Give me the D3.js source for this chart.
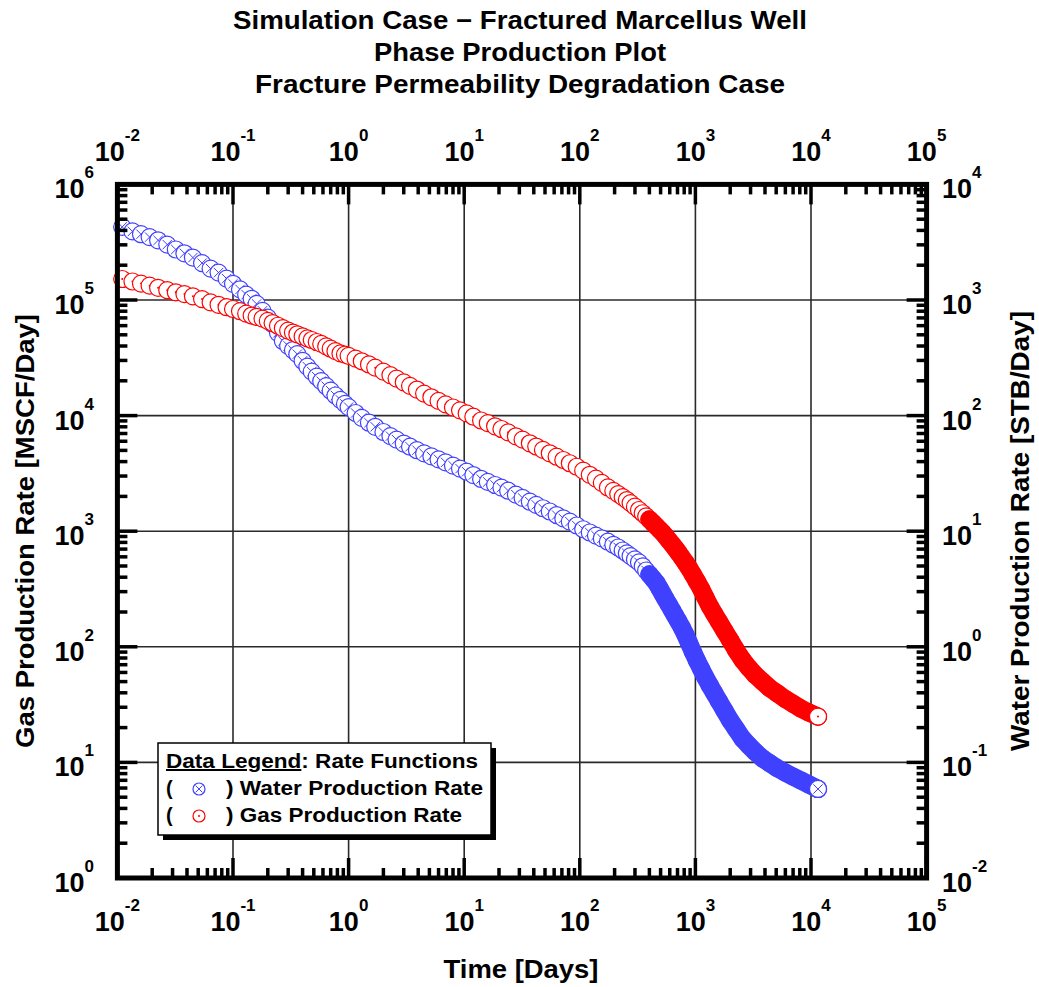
<!DOCTYPE html>
<html>
<head>
<meta charset="utf-8">
<script src="https://cdn.jsdelivr.net/npm/d3@7/dist/d3.min.js"></script>
<style>
  body { margin: 0; background: #fff; }
  svg text { font-family: "Liberation Sans", Arial, Helvetica, sans-serif; font-weight: bold; fill: #000; }
</style>
</head>
<body>
<div class="container"></div>
<script>
// time of each plotted step [days]
var days = [
  0.011, 0.0135, 0.016, 0.019, 0.0225, 0.027, 0.032, 0.038, 0.045, 0.054, 0.064, 0.075, 0.088, 0.1, 0.115, 0.13, 0.145,
  0.16, 0.18, 0.2, 0.22, 0.245, 0.27, 0.3, 0.33, 0.36, 0.4, 0.44, 0.48, 0.53, 0.58, 0.64, 0.7, 0.77, 0.85, 0.93, 1.0,
  1.15, 1.3, 1.5, 1.7, 2.0, 2.3, 2.6, 3.0, 3.4, 3.9, 4.5, 5.2, 6.0, 6.9, 8.0, 9.2, 10.5, 12, 14, 16, 18.5, 21, 24, 28,
  32, 37, 42, 48, 55, 63, 72, 82, 94, 107, 122, 138, 155, 175, 195,
  215, 235, 255, 275, 300, 325, 350, 375, 400, 430, 460, 490, 520, 550, 590, 630, 670, 710,
  760, 820, 880, 950, 1030, 1120, 1220, 1330, 1450, 1600, 1780, 2000, 2250, 2550, 2900, 3300, 3800, 4400, 5100, 6000,
  7000, 8200, 9600, 11500
];

// gas rate [MSCF/Day], left axis
var gasRate = [
  152000, 144500, 138700, 133000, 127500, 121600, 116600, 112500, 107600, 101800, 95500, 90900, 86600, 83600, 80000, 76300, 73400,
  71400, 69000, 65900, 63200, 59900, 57100, 54400, 52300, 50500, 48400, 46600, 45100, 43300, 41700, 39700, 37900, 36100, 34500, 33700, 32900,
  31100, 29500, 27700, 26000, 24000, 22400, 20900, 19400, 18100, 16800, 15500, 14400, 13400, 12500, 11750, 11100, 10450, 9780, 9070, 8600,
  8080, 7660, 7160, 6620, 6190, 5760, 5400, 5050, 4720, 4410, 4130, 3870, 3610, 3340, 3075, 2850, 2620, 2390, 2230,
  2095, 1970, 1860, 1750, 1630, 1525, 1430, 1345, 1265, 1177, 1100, 1032, 972, 911, 834, 769, 711, 658,
  597, 536, 481, 423, 368, 317, 267, 225, 194, 165, 138, 114, 93.4, 77.3, 65.8, 56.9, 50.1, 43.9, 39.6, 35.3,
  32.1, 29.2, 27.0, 24.9
];

// water rate [STB/Day], right axis
var waterRate = [
  4290, 3922, 3709, 3501, 3284, 3015, 2735, 2535, 2327, 2085, 1869, 1726, 1531, 1381, 1235, 1113, 1024,
  925, 806, 703, 619, 520, 442, 401, 369, 340, 298, 265, 240, 217, 198.5, 179.6, 164.2, 149.3, 136.7, 126.2, 118.4,
  105.3, 95.5, 86.8, 80.0, 72.1, 66.5, 61.9, 57.3, 53.8, 50.2, 47.1, 44.4, 41.8, 39.4, 36.9, 34.8, 32.7, 30.6, 28.3, 26.7,
  25.1, 23.8, 22.4, 20.7, 19.4, 18.0, 16.9, 15.8, 14.8, 13.8, 12.9, 12.1, 11.2, 10.4, 9.74, 9.16, 8.66, 8.11, 7.63,
  7.23, 6.81, 6.43, 6.08, 5.70, 5.38, 4.97, 4.57, 4.23, 3.88, 3.57, 3.20, 2.88, 2.61, 2.31, 2.06, 1.85, 1.67,
  1.48, 1.27, 1.08, 0.907, 0.761, 0.645, 0.544, 0.465, 0.400, 0.338, 0.282, 0.231, 0.194, 0.161, 0.140, 0.123, 0.1085, 0.0984, 0.0893, 0.0815,
  0.0754, 0.0697, 0.0644, 0.0589
];

// axis decades (tick labels are 10^n)
var timeDecades = [-2, -1, 0, 1, 2, 3, 4, 5];
var gasDecades = [0, 1, 2, 3, 4, 5, 6];
var waterDecades = [-2, -1, 0, 1, 2, 3, 4];

var titleLines = [
  "Simulation Case \u2212 Fractured Marcellus Well",
  "Phase Production Plot",
  "Fracture Permeability Degradation Case"
];
var xTitle = "Time [Days]";
var leftTitle = "Gas Production Rate [MSCF/Day]";
var rightTitle = "Water Production Rate [STB/Day]";
var legendHead = ["Data Legend", ": Rate Functions"];
var legendRows = ["Water Production Rate", "Gas Production Rate"];

// after this time the steps are so close that the symbols merge into a band
var bandFrom = 400;

//layout
var settings = {
  w: 1039, h: 987,
  left: 117.4, right: 926.6, top: 184.4, bottom: 878,
  r: 8.5
};
var waterColor = "#4040ff", gasColor = "#ff0000";
// widths the text is stretched to (the source font is wide)
var titleWidths = [574, 292, 530];
var legendWidths = [312, 257, 236];

var svg = d3.select(".container").append("svg")
  .attr("width", settings.w)
  .attr("height", settings.h);

function ends(dec) { return [Math.pow(10, dec[0]), Math.pow(10, dec[dec.length - 1])]; }

var x = d3.scaleLog().domain(ends(timeDecades)).range([settings.left, settings.right]);
var yGas = d3.scaleLog().domain(ends(gasDecades)).range([settings.bottom, settings.top]);
var yWater = d3.scaleLog().domain(ends(waterDecades)).range([settings.bottom, settings.top]);

//titles
svg.selectAll("text.title")
  .data(titleLines)
  .enter().append("text")
  .attr("class", "title")
  .attr("x", 520)
  .attr("y", function (d, i) { return 29 + i * 32; })
  .attr("text-anchor", "middle")
  .attr("textLength", function (d, i) { return titleWidths[i]; })
  .attr("lengthAdjust", "spacingAndGlyphs")
  .style("font-size", "25px")
  .text(function (d) { return d; });

//grid lines at each decade
var grid = svg.append("g").attr("stroke", "#2a2a2a").attr("stroke-width", 1.6);
grid.selectAll("line.v")
  .data(timeDecades.slice(1, -1))
  .enter().append("line")
  .attr("x1", function (d) { return x(Math.pow(10, d)); })
  .attr("x2", function (d) { return x(Math.pow(10, d)); })
  .attr("y1", settings.top)
  .attr("y2", settings.bottom);
grid.selectAll("line.h")
  .data(gasDecades.slice(1, -1))
  .enter().append("line")
  .attr("y1", function (d) { return yGas(Math.pow(10, d)); })
  .attr("y2", function (d) { return yGas(Math.pow(10, d)); })
  .attr("x1", settings.left)
  .attr("x2", settings.right);

//data
var points = days.map(function (t, i) { return { t: t, gas: gasRate[i], water: waterRate[i] }; });

function waterSymbol(g, r) {
  g.append("circle").attr("r", r).attr("fill", "#fff").attr("stroke", waterColor).attr("stroke-width", 1.2);
  var k = r * 0.55;
  g.append("path")
    .attr("d", "M" + (-k) + "," + (-k) + "L" + k + "," + k + "M" + (-k) + "," + k + "L" + k + "," + (-k))
    .attr("stroke", waterColor).attr("stroke-width", 1);
}
function gasSymbol(g, r) {
  g.append("circle").attr("r", r).attr("fill", "#fff").attr("stroke", gasColor).attr("stroke-width", 1.2);
  g.append("circle").attr("r", 1).attr("fill", gasColor);
}

svg.append("g").selectAll("g")
  .data(points)
  .enter().append("g")
  .attr("transform", function (d) { return "translate(" + x(d.t) + "," + yWater(d.water) + ")"; })
  .each(function () { waterSymbol(d3.select(this), settings.r); });

svg.append("g").selectAll("g")
  .data(points)
  .enter().append("g")
  .attr("transform", function (d) { return "translate(" + x(d.t) + "," + yGas(d.gas) + ")"; })
  .each(function () { gasSymbol(d3.select(this), settings.r); });

// dense late-time steps
var dense = points.filter(function (d) { return d.t >= bandFrom; });
svg.append("path")
  .datum(dense)
  .attr("fill", "none")
  .attr("stroke", waterColor)
  .attr("stroke-width", settings.r * 2 + 1.2)
  .attr("stroke-linecap", "round")
  .attr("stroke-linejoin", "round")
  .attr("d", d3.line().x(function (d) { return x(d.t); }).y(function (d) { return yWater(d.water); }));
svg.append("path")
  .datum(dense)
  .attr("fill", "none")
  .attr("stroke", gasColor)
  .attr("stroke-width", settings.r * 2 + 1.2)
  .attr("stroke-linecap", "round")
  .attr("stroke-linejoin", "round")
  .attr("d", d3.line().x(function (d) { return x(d.t); }).y(function (d) { return yGas(d.gas); }));

var last = points[points.length - 1];
waterSymbol(svg.append("g").attr("transform", "translate(" + x(last.t) + "," + yWater(last.water) + ")"), settings.r);
gasSymbol(svg.append("g").attr("transform", "translate(" + x(last.t) + "," + yGas(last.gas) + ")"), settings.r);

//ticks, inward on all four sides
function logTicks(dec) {
  var out = [];
  dec.forEach(function (d, i) {
    for (var m = 1; m <= 9; m++) {
      if (i === dec.length - 1 && m > 1) break;
      out.push({ v: m * Math.pow(10, d), major: m === 1 });
    }
  });
  return out;
}
var tickG = svg.append("g").attr("stroke", "#000").attr("stroke-width", 3.5);
var xt = logTicks(timeDecades), yt = logTicks(gasDecades);
function tl(d) { return d.major ? 20 : 10; }

tickG.selectAll("line.b").data(xt).enter().append("line")
  .attr("x1", function (d) { return x(d.v); }).attr("x2", function (d) { return x(d.v); })
  .attr("y1", settings.bottom).attr("y2", function (d) { return settings.bottom - tl(d); });
tickG.selectAll("line.t").data(xt).enter().append("line")
  .attr("x1", function (d) { return x(d.v); }).attr("x2", function (d) { return x(d.v); })
  .attr("y1", settings.top).attr("y2", function (d) { return settings.top + tl(d); });
tickG.selectAll("line.l").data(yt).enter().append("line")
  .attr("y1", function (d) { return yGas(d.v); }).attr("y2", function (d) { return yGas(d.v); })
  .attr("x1", settings.left).attr("x2", function (d) { return settings.left + tl(d); });
tickG.selectAll("line.r").data(yt).enter().append("line")
  .attr("y1", function (d) { return yGas(d.v); }).attr("y2", function (d) { return yGas(d.v); })
  .attr("x1", settings.right).attr("x2", function (d) { return settings.right - tl(d); });

svg.append("rect")
  .attr("x", settings.left).attr("y", settings.top)
  .attr("width", settings.right - settings.left)
  .attr("height", settings.bottom - settings.top)
  .attr("fill", "none").attr("stroke", "#000").attr("stroke-width", 5);

//tick labels 10^n
function powLabel(sel) {
  sel.style("font-size", "27px");
  sel.append("tspan").text("10");
  sel.append("tspan").attr("dy", -20).style("font-size", "17px").text(function (d) { return d; });
}
svg.selectAll("text.xb").data(timeDecades).enter().append("text")
  .attr("x", function (d) { return x(Math.pow(10, d)); }).attr("y", 931)
  .attr("text-anchor", "middle").call(powLabel);
svg.selectAll("text.xt").data(timeDecades).enter().append("text")
  .attr("x", function (d) { return x(Math.pow(10, d)); }).attr("y", 161)
  .attr("text-anchor", "middle").call(powLabel);
svg.selectAll("text.yl").data(gasDecades).enter().append("text")
  .attr("x", 94).attr("y", function (d) { return yGas(Math.pow(10, d)) + 14; })
  .attr("text-anchor", "end").call(powLabel);
svg.selectAll("text.yr").data(waterDecades).enter().append("text")
  .attr("x", 942).attr("y", function (d) { return yWater(Math.pow(10, d)) + 14; })
  .attr("text-anchor", "start").call(powLabel);

//axis titles
svg.append("text").attr("x", 521).attr("y", 978).attr("text-anchor", "middle")
  .attr("textLength", 155).attr("lengthAdjust", "spacingAndGlyphs")
  .style("font-size", "25px").text(xTitle);
svg.append("text").attr("transform", "translate(34,531) rotate(-90)").attr("text-anchor", "middle")
  .attr("textLength", 434).attr("lengthAdjust", "spacingAndGlyphs")
  .style("font-size", "25px").text(leftTitle);
svg.append("text").attr("transform", "translate(1029,531) rotate(-90)").attr("text-anchor", "middle")
  .attr("textLength", 440).attr("lengthAdjust", "spacingAndGlyphs")
  .style("font-size", "25px").text(rightTitle);

//legend
var leg = svg.append("g");
leg.append("rect").attr("x", 163).attr("y", 748).attr("width", 333).attr("height", 92).attr("fill", "#000");
leg.append("rect").attr("x", 158).attr("y", 743).attr("width", 333).attr("height", 92)
  .attr("fill", "#fff").attr("stroke", "#000").attr("stroke-width", 1.5);
var head = leg.append("text").attr("x", 166).attr("y", 768).style("font-size", "20px")
  .attr("textLength", legendWidths[0]).attr("lengthAdjust", "spacingAndGlyphs");
head.append("tspan").style("text-decoration", "underline").text(legendHead[0]);
head.append("tspan").text(legendHead[1]);

legendRows.forEach(function (label, i) {
  var by = 795 + i * 27;
  leg.append("text").attr("x", 166).attr("y", by).style("font-size", "20px").text("(");
  leg.append("text").attr("x", 226).attr("y", by).style("font-size", "20px")
    .attr("textLength", legendWidths[i + 1]).attr("lengthAdjust", "spacingAndGlyphs")
    .text(") " + label);
  var g = leg.append("g").attr("transform", "translate(199," + (by - 6) + ")");
  if (i === 0) waterSymbol(g, 6); else gasSymbol(g, 6);
});
</script>
</body>
</html>
